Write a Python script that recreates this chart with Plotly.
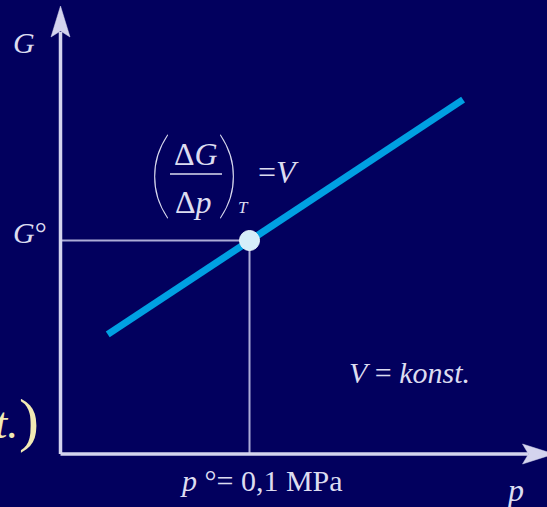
import plotly.graph_objects as go

# ---------------- data ----------------
p_line = [0.025, 0.1, 0.213]      # pressure, MPa
G_line = [0.56, 1.0, 1.66]        # Gibbs energy, arbitrary units
p_std = [0.1]                     # p° = 0,1 MPa
G_std = [1.0]                     # G°

# ---------------- geometry (pixels) ----------------
W, H = 547, 507
X0, Y0 = 60.5, 454.0     # pixel position of the axes origin
SX = 1890.0              # px per MPa
SY = 213.5               # px per G unit

BG = "#02005E"
AX = "#D4D4EE"
GUIDE = "#ACACD6"
TXT = "#DCDCF0"
LINE = "#00A0E2"
FONT = "Liberation Serif, Times New Roman, serif"


def dx(px):
    return px / SX


def dy(py):
    return py / SY


def pxp(x):   # pixel x -> paper
    return x / W


def pyp(y):   # pixel y -> paper
    return 1 - y / H


x_range = [-X0 / SX, (W - X0) / SX]
y_range = [-(H - Y0) / SY, Y0 / SY]

fig = go.Figure()

# guide lines to the standard point
fig.add_trace(go.Scatter(
    x=[0, p_std[0], p_std[0]], y=[G_std[0], G_std[0], 0],
    mode="lines", line=dict(color=GUIDE, width=2),
    hoverinfo="skip", showlegend=False))

# the G(p) line
fig.add_trace(go.Scatter(
    x=p_line, y=G_line, mode="lines",
    line=dict(color=LINE, width=7),
    hoverinfo="skip", showlegend=False))

# the standard point
fig.add_trace(go.Scatter(
    x=p_std, y=G_std, mode="markers",
    marker=dict(size=20, color="#D6EEF9", line=dict(color="#EAF6FC", width=1)),
    hoverinfo="skip", showlegend=False))

shapes = []
# y axis
y_tip = dy(448)
shapes.append(dict(type="line", xref="x", yref="y", x0=0, y0=0, x1=0, y1=dy(422),
                   line=dict(color=AX, width=3.5)))
shapes.append(dict(type="path", xref="x", yref="y",
                   path=f"M 0,{y_tip} L {dx(9.5)},{dy(417)} L 0,{dy(423)} L {-dx(9.5)},{dy(417)} Z",
                   fillcolor=AX, line=dict(color=AX, width=0.5)))
# x axis
x_tip = dx(493.5)
shapes.append(dict(type="line", xref="x", yref="y", x0=0, y0=0, x1=dx(468), y1=0,
                   line=dict(color=AX, width=3.5)))
shapes.append(dict(type="path", xref="x", yref="y",
                   path=f"M {x_tip},0 L {dx(462)},{dy(10)} L {dx(468)},0 L {dx(462)},{-dy(10)} Z",
                   fillcolor=AX, line=dict(color=AX, width=0.5)))
# fraction bar
shapes.append(dict(type="line", xref="paper", yref="paper",
                   x0=pxp(170), x1=pxp(222), y0=pyp(174), y1=pyp(174),
                   line=dict(color=TXT, width=1.5)))


def ann(text, x, y, size, color=TXT, xanchor="center", yanchor="middle",
        family=FONT, weight="normal"):
    return dict(text=text, x=pxp(x), y=pyp(y), xref="paper", yref="paper",
                showarrow=False, xanchor=xanchor, yanchor=yanchor,
                font=dict(family=family, size=size, color=color, weight=weight))


annotations = [
    ann("<i>G</i>", 24, 43, 30),
    ann("<i>G</i>°", 30, 232, 30),
    ann("<i>p</i> °= 0,1 MPa", 261, 480, 30),
    ann("<i>p</i>", 515, 490, 32),
    ann("<i>V</i> = <i>konst.</i>", 409, 372, 30),
    # derivative expression
    ann("(", 160, 170, 96, family="Lato", weight=100),
    ann(")", 228, 170, 96, family="Lato", weight=100),
    ann("Δ<i>G</i>", 196, 154, 32),
    ann("Δ<i>p</i>", 193, 202, 32),
    ann("<i>T</i>", 243, 207, 17),
    ann("=<i>V</i>", 278, 172, 32),
    # cut-off expression on the left
    ann("<i>t.</i>", 20, 423, 44, color="#F2EAB4", xanchor="right"),
    ann(")", 29, 420, 60, color="#F2EAB4"),
]

fig.update_layout(
    width=W, height=H,
    margin=dict(l=0, r=0, t=0, b=0),
    paper_bgcolor=BG, plot_bgcolor=BG,
    xaxis=dict(range=x_range, visible=False, fixedrange=True),
    yaxis=dict(range=y_range, visible=False, fixedrange=True),
    shapes=shapes, annotations=annotations,
    showlegend=False,
)

fig.write_html(
    "out.html",
    config={"displayModeBar": False},
    post_script="document.body.style.margin='0px';"
                "document.body.style.overflow='hidden';"
                "document.body.style.backgroundColor='#02005E';",
)
